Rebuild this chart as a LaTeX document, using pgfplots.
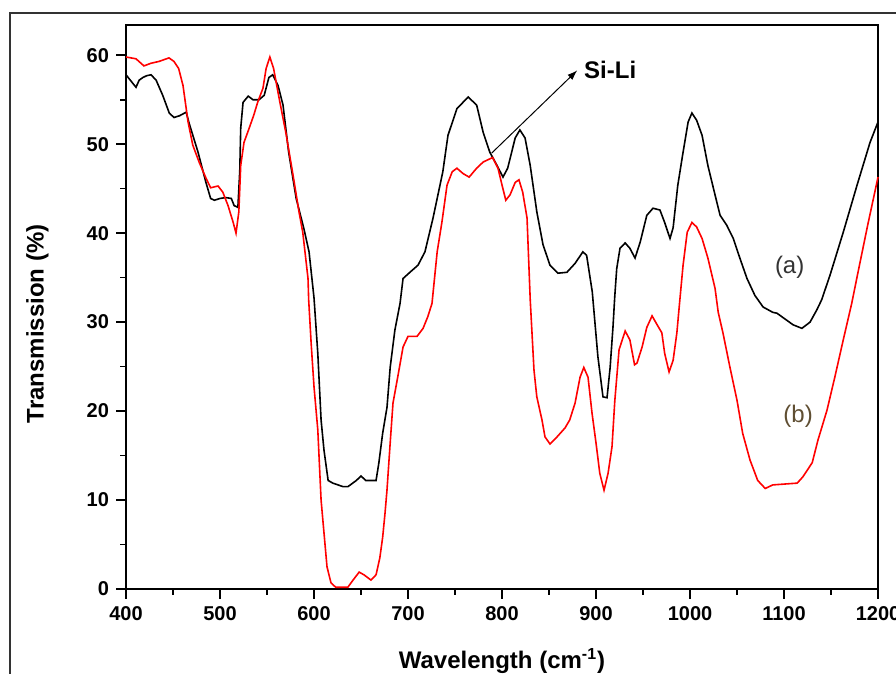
\documentclass[border=0pt]{standalone}
\usepackage{fontspec}
\setmainfont{Liberation Sans}
\usepackage{pgfplots}
\pgfplotsset{compat=1.18}
\usetikzlibrary{arrows.meta}
\definecolor{labb}{RGB}{95,78,50}

\begin{document}
\begin{tikzpicture}
\begin{axis}[
    scale only axis,
    width=376pt, height=282pt,
    xmin=400, xmax=1200,
    ymin=0, ymax=63.4,
    xtick={400,500,...,1200},
    ytick={0,10,...,60},
    minor x tick num=1, minor y tick num=1,
    tick align=outside,
    xtick pos=left, ytick pos=left,
    major tick length=5pt, minor tick length=3pt,
    axis line style={line width=1pt},
    every tick/.style={black, line width=0.8pt},
    /pgf/number format/assume math mode=true,
    /pgf/number format/1000 sep={},
    scaled ticks=false,
    ticklabel style={font=\fontsize{10}{12}\selectfont\bfseries},
    xlabel={Wavelength (cm\textsuperscript{-1})},
    ylabel={Transmission (\%)},
    label style={font=\fontsize{12}{14}\selectfont\bfseries},
    xlabel style={at={(axis description cs:0.5,-0.128)}, anchor=center},
    ylabel style={at={(axis description cs:-0.118,0.47)}, anchor=center},
    clip=false,
]

% (a) black
\addplot[black, line width=0.8pt] coordinates {
(400,57.8)(406,57.0)(410.6,56.4)(414,57.2)(418,57.5)(422,57.7)(426.6,57.8)
(432,57.2)(439,55.5)(446,53.5)(451,53.0)(457,53.2)(464,53.6)(467,52.4)
(476.6,49.1)(485,45.7)(490,43.9)(494,43.7)(500,43.9)(506,44.0)(512,43.9)
(515,43.1)(519,42.9)(521,47)(522,51.8)(524.5,54.7)(530,55.4)(535,55.0)
(541.5,55.0)(547,55.5)(552,57.5)(556,57.8)(561.7,56.6)(567,54.4)(573,49.1)
(581,43.9)(589,40.6)(594.7,37.9)(600,32.7)(604,26.5)(607.5,19.0)(610.6,15.6)
(615,12.2)(620,11.9)(631,11.5)(636,11.5)(645,12.2)(650,12.7)(655,12.2)
(666,12.2)(669,14.2)(673,17.5)(677.6,20.4)(681,24.9)(686,29.1)(691.5,32.1)
(694.7,34.9)(702,35.6)(710.6,36.4)(718,37.9)(726.6,41.7)(737,46.9)(742.5,51.0)
(752,54.0)(764,55.3)(773,54.4)(780,51.3)(787,49.1)(794.7,47.6)(801,46.3)
(806,47.3)(814,50.7)(819,51.6)(824.5,50.7)(830,47.6)(837,42.4)(843.6,38.7)
(851,36.4)(859.6,35.5)(869,35.6)(877.7,36.6)(886,37.9)(890,37.5)(896,33.4)
(902,26.1)(907.4,21.6)(911.7,21.5)(915,24.9)(918,29.4)(920,33)(922,36)
(925.5,38.3)(931,38.9)(936,38.3)(941.5,37.2)(947,39.0)(954,42.0)(960.6,42.8)
(968,42.6)(973,41.2)(978.7,39.4)(982,40.6)(987,45.4)(992.6,49.1)(998,52.5)
(1002,53.5)(1007,52.7)(1012.8,51.0)(1019,47.6)(1026.6,44.3)(1032,42.0)
(1039,40.9)(1046,39.4)(1053,37.2)(1060.6,34.9)(1069,33.0)(1077.7,31.7)
(1088,31.1)(1092.5,31.0)(1103,30.2)(1109.6,29.7)(1119,29.3)(1127.7,30.0)
(1135,31.4)(1140,32.5)(1149,35.3)(1163,40.1)(1177.7,45.4)(1191.5,50.2)(1200,52.5)
};

% (b) red
\addplot[red, line width=0.8pt] coordinates {
(400,59.8)(410.6,59.6)(419,58.8)(426.6,59.1)(435,59.3)(445.7,59.7)(451,59.3)
(456,58.5)(460.6,56.6)(466,52.5)(471,49.9)(477.7,48.0)(485,46.2)(490,45.1)
(497.9,45.3)(503,44.6)(508.5,43.1)(514,41.2)(517,40.0)(520,42.4)(522,47.6)
(525.5,50.2)(531,51.8)(536,53.3)(540,54.7)(545.7,56.3)(549,58.5)(553,59.8)
(557,58.5)(562.8,55.2)(570,51.3)(577.7,46.5)(584,42.4)(588,40.1)(593.6,34.9)
(594.3,32.5)(597,27.5)(600,22.7)(604,17.9)(607.5,10.0)(610.6,6.3)(613.8,2.5)
(618,0.7)(623,0.2)(636,0.2)(641.5,1.0)(648,1.9)(653,1.6)(660.6,1.0)(666,1.6)
(670,3.5)(673,5.8)(675.5,8.5)(677.6,11.1)(681,16.4)(684,20.9)(689,23.8)
(694.7,27.2)(700,28.4)(709.6,28.4)(716,29.3)(721,30.6)(725.5,32.1)(731,37.9)
(736,41.2)(741.5,45.4)(747,46.9)(752,47.3)(758.5,46.7)(765,46.3)(773,47.3)
(780,48.0)(790,48.5)(795.7,47.3)(800,45.4)(804,43.7)(808.5,44.3)(814,45.7)
(818,46.0)(822,44.6)(826.6,41.7)(830,32.5)(834,24.6)(837,21.6)(842.5,19.0)
(845.7,17.1)(851,16.3)(858.5,17.1)(867,18.1)(872,19.0)(877.7,20.9)(883,23.8)
(887,24.9)(891.5,23.8)(895.7,19.8)(900,16.4)(904,13.0)(908.5,11.1)(912.8,13.0)
(917,16.0)(920,21.2)(924.5,26.9)(931,29.0)(936,28.0)(941,25.2)(943.6,25.4)
(949,27.2)(954,29.4)(959.6,30.7)(965,29.7)(970,28.8)(973,26.5)(977.7,24.4)
(982,25.7)(986,28.8)(989,32.3)(992.6,36.4)(997,40.1)(1002,41.2)(1007,40.7)
(1012.8,39.4)(1019,37.2)(1026.6,33.8)(1030,31.1)(1035,28.8)(1042.5,24.9)
(1050,21.2)(1056,17.5)(1063.8,14.5)(1072,12.2)(1080,11.3)(1088,11.7)(1101,11.8)
(1114,11.9)(1120,12.6)(1130,14.2)(1136,16.7)(1145.7,20.1)(1154,23.8)(1163,28.0)
(1172,32.1)(1178.7,35.6)(1189,40.9)(1200,46.3)
};

% annotation
\draw[-{Latex[length=5pt,width=3.5pt]}, line width=0.5pt] (axis cs:789,49.0) -- (axis cs:880,58.3);
\node[anchor=west, font=\fontsize{12}{14}\selectfont\bfseries, inner sep=0pt] at (axis cs:887,58.3) {Si-Li};
\node[font=\fontsize{12}{14}\selectfont, text=black!80] at (axis cs:1106,36.2) {(a)};
\node[font=\fontsize{12}{14}\selectfont, text=labb] at (axis cs:1115,19.4) {(b)};

% outer frame
\draw[line width=1pt, black!80] (rel axis cs:-0.1543,-0.3) -- (rel axis cs:-0.1543,1.0213) -- (rel axis cs:1.2,1.0213);

\coordinate (bl) at (rel axis cs:-0.1676,-0.1507);
\coordinate (tr) at (rel axis cs:1.0239,1.0443);
\end{axis}
\pgfresetboundingbox
\useasboundingbox (bl) rectangle (tr);
\end{tikzpicture}
\end{document}
